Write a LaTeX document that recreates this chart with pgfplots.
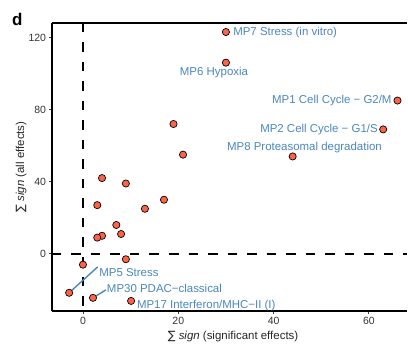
\documentclass[border=0pt]{standalone}
\usepackage{pgfplots}
\pgfplotsset{compat=1.18}
\usepackage{pgfplotstable}
\usepackage{fontspec}
\setmainfont{Liberation Sans}
\newfontfamily\symfont{DejaVu Sans}
\definecolor{labblue}{RGB}{74,134,190}
\definecolor{ptred}{RGB}{255,99,71}

% meta-programs: summed signs over significant effects (x) and over all effects (y)
\pgfplotstableread{
x y
30 123
30 106
66 85
63 69
44 54
19 72
21 55
4 42
9 39
3 27
17 30
13 25
7 16
8 11
4 10
3 9
9 -3
0 -6
-2.9 -21.6
2.1 -24.4
10.1 -26.1
}\mpdata

\begin{document}
\begin{tikzpicture}
\begin{axis}[
  scale only axis, width=355bp, height=288bp,
  xmin=-6.5, xmax=68, ymin=-31.7, ymax=128,
  axis lines*=left,
  axis line style={line width=1.6pt, -},
  xtick={0,20,40,60}, ytick={0,40,80,120},
  tick align=outside, major tick length=2.5bp,
  tick style={line width=0.8pt, black!75},
  tick label style={font=\fontsize{10.5}{12}\selectfont, text=black!80},
  /pgf/number format/assume math mode=true,
  xlabel={{\symfont ∑} \textit{sign} (significant effects)},
  ylabel={{\symfont ∑} \textit{sign} (all effects)},
  label style={font=\fontsize{11.5}{13}\selectfont, text=black!85},
  xlabel style={at={(axis description cs:0.51,-0.09)}, anchor=center},
  ylabel style={at={(axis description cs:-0.087,0.5)}, anchor=center},
  clip=false,
]
\coordinate (sw) at (rel axis cs:0,0);
\draw[line width=1.6pt] (rel axis cs:0,1) -- (rel axis cs:1,1);

% reference lines at zero
\addplot[black, line width=1.6pt, dash pattern=on 9.5bp off 10bp] coordinates {(-6.5,0) (68,0)};
\addplot[black, line width=1.6pt, dash pattern=on 9.5bp off 10bp] coordinates {(0,128) (0,-31.7)};

% label connectors
\addplot[labblue, line width=1.4pt] coordinates {(-2.9,-21.6) (3.1,-7.2)};
\addplot[labblue, line width=1.4pt] coordinates {(2.1,-24.4) (4.8,-20.0)};

\addplot[only marks, mark=*, mark size=3.6bp,
  mark options={fill=ptred, draw=black, line width=0.7pt}] table {\mpdata};

\begin{scope}[every node/.style={text=labblue, inner sep=0pt, font=\fontsize{11.5}{13}\selectfont}]
\node[anchor=west] at (axis cs:31.5,122.6) {MP7 Stress (in vitro)};
\node[anchor=center] at (axis cs:27.5,100.4) {MP6 Hypoxia};
\node[anchor=east] at (axis cs:64.8,84.9) {MP1 Cell Cycle − G2/M};
\node[anchor=east] at (axis cs:61.9,68.8) {MP2 Cell Cycle − G1/S};
\node[anchor=west] at (axis cs:30.2,58.8) {MP8 Proteasomal degradation};
\node[anchor=west] at (axis cs:3.4,-10.5) {MP5 Stress};
\node[anchor=west] at (axis cs:5.0,-19.4) {MP30 PDAC−classical};
\node[anchor=west] at (axis cs:11.3,-28.8) {MP17 Interferon/MHC−II (I)};
\end{scope}

\node[anchor=base west, inner sep=0pt, font=\fontsize{17}{19}\selectfont\bfseries]
  at (axis description cs:-0.1127,0.993) {d};
\end{axis}
\pgfresetboundingbox
\path ([xshift=-52bp, yshift=-36bp]sw) rectangle ++(408bp,347bp);
\end{tikzpicture}
\end{document}
